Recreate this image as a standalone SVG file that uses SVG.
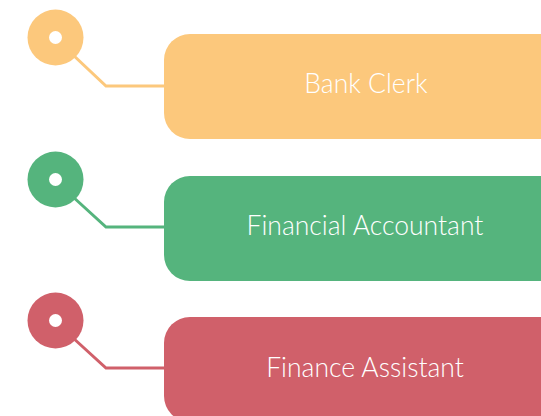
<svg xmlns="http://www.w3.org/2000/svg" width="541" height="416" viewBox="0 0 541 416">
<style>
.lbl{font-family:Lato,"Liberation Sans",sans-serif;font-size:26.5px;font-weight:300;fill:#fff;text-anchor:middle;dominant-baseline:central}
.conn{fill:none;stroke-width:3;stroke-linejoin:miter}
.hole{fill:#fff}
.o{fill:#FCC87C}.os{stroke:#FCC87C}
.g{fill:#55B47D}.gs{stroke:#55B47D}
.r{fill:#D0606A}.rs{stroke:#D0606A}
</style>
<rect width="541" height="416" fill="#fff"/>
<g id="connectors">
<polyline class="conn os" points="72,54 106,86 166,86"/>
<polyline class="conn gs" points="72,196 106,227 166,227"/>
<polyline class="conn rs" points="72,337 106,368 166,368"/>
</g>
<g id="dot1"><circle class="o" cx="55.5" cy="37.5" r="28"/><circle class="hole" cx="55.5" cy="37.5" r="6.5"/></g>
<g id="dot2"><circle class="g" cx="55.5" cy="179.5" r="28"/><circle class="hole" cx="55.5" cy="179.5" r="6.5"/></g>
<g id="dot3"><circle class="r" cx="55.5" cy="320.5" r="28"/><circle class="hole" cx="55.5" cy="320.5" r="6.5"/></g>
<g id="bank-clerk"><rect class="o" x="164" y="34" width="410" height="105" rx="26"/><text class="lbl" x="366" y="83">Bank Clerk</text></g>
<g id="financial-accountant"><rect class="g" x="164" y="176" width="410" height="105" rx="26"/><text class="lbl" x="365" y="225">Financial Accountant</text></g>
<g id="finance-assistant"><rect class="r" x="164" y="317" width="410" height="105" rx="26"/><text class="lbl" x="365" y="367">Finance Assistant</text></g>
</svg>
